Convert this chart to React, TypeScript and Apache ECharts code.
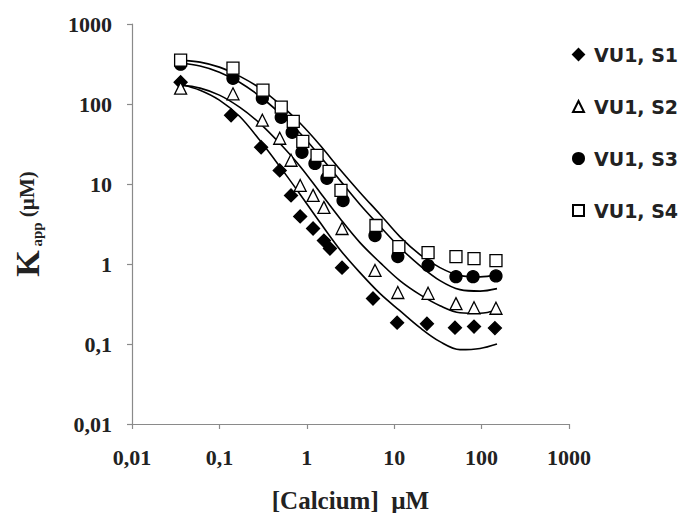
import React, { useEffect, useRef } from "react";
import * as echarts from "echarts";

// Scatter data ([Calcium] µM, K app µM)
const s1X = [0.036, 0.136, 0.3, 0.49, 0.66, 0.84, 1.18, 1.57, 1.84, 2.53, 5.72, 10.8, 23.7, 49.6, 81.9, 142];
const s1Y = [187, 72.4, 28.8, 14.8, 7.2, 3.93, 2.78, 1.96, 1.56, 0.9, 0.37, 0.185, 0.179, 0.16, 0.165, 0.158];

const s2X = [0.036, 0.143, 0.31, 0.49, 0.66, 0.84, 1.18, 1.57, 2.53, 6.03, 11.0, 24.4, 50.9, 81.9, 146];
const s2Y = [158, 134, 62.7, 37.3, 19.8, 9.6, 7.2, 5.1, 2.78, 0.83, 0.44, 0.43, 0.32, 0.284, 0.28];

const s3X = [0.036, 0.143, 0.31, 0.51, 0.68, 0.88, 1.24, 1.7, 2.6, 6.03, 11.0, 24.4, 50.9, 79.8, 146];
const s3Y = [315, 210, 118, 68.4, 44.4, 24.9, 18.1, 11.8, 6.2, 2.27, 1.24, 0.955, 0.695, 0.695, 0.71];

const s4X = [0.036, 0.143, 0.315, 0.51, 0.7, 0.9, 1.31, 1.8, 2.46, 6.19, 11.3, 24.4, 50.9, 81.9, 146];
const s4Y = [354, 281, 149, 91.2, 60.8, 34.2, 22.8, 14.4, 8.3, 3.03, 1.65, 1.39, 1.24, 1.17, 1.1];

// Fitted curves
const curveX = [0.036, 0.06, 0.1, 0.17, 0.29, 0.49, 0.84, 1.42, 2.4, 4.06, 6.9, 11.6, 19.7, 33.4, 56.6, 96, 150];
const curve1Y = [177, 149, 112, 70.3, 35.2, 16.6, 7.41, 3.3, 1.51, 0.78, 0.426, 0.261, 0.16, 0.107, 0.085, 0.088, 0.1];
const curve2Y = [172, 158, 129, 91.2, 57.4, 32.3, 16.6, 7.85, 3.71, 1.85, 1.04, 0.62, 0.414, 0.301, 0.246, 0.242, 0.268];
const curve3Y = [325, 298, 250, 187, 125, 76.7, 43.1, 22.2, 11.1, 5.55, 2.94, 1.61, 0.955, 0.62, 0.478, 0.458, 0.492];
const curve4Y = [354, 334, 289, 223, 158, 99.4, 57.4, 30.5, 15.2, 7.85, 4.16, 2.2, 1.31, 0.9, 0.716, 0.69, 0.736];

const tickLabels = ["0,01", "0,1", "1", "10", "100", "1000"];
const seriesNames = ["VU1, S1", "VU1, S2", "VU1, S3", "VU1, S4"];

const zip = (xs: number[], ys: number[]) => xs.map((x, i) => [x, ys[i]]);

export default function App() {
  const ref = useRef<HTMLDivElement>(null);
  useEffect(() => {
    const chart = echarts.init(ref.current!, null, { renderer: "svg" });
    const serif = "Liberation Serif";
    const fmt = (v: number) => tickLabels[Math.round(Math.log10(v)) + 2] ?? "";
    const axisLineStyle = { color: "#8a8a8a", width: 1.2 };
    const markers = [
      { symbol: "diamond", size: 13, fill: "#000" },
      { symbol: "triangle", size: 12, fill: "#fff" },
      { symbol: "circle", size: 12, fill: "#000" },
      { symbol: "rect", size: 12, fill: "#fff" },
    ];
    const pts = [zip(s1X, s1Y), zip(s2X, s2Y), zip(s3X, s3Y), zip(s4X, s4Y)];
    const curves = [curve1Y, curve2Y, curve3Y, curve4Y];
    const series: any[] = [];
    curves.forEach((cy, i) => {
      series.push({
        name: "curve" + i,
        type: "line",
        data: zip(curveX, cy),
        smooth: 0.35,
        showSymbol: false,
        symbol: "none",
        lineStyle: { color: "#000", width: 1.6 },
        z: 2,
        silent: true,
      });
    });
    markers.forEach((m, i) => {
      series.push({
        name: seriesNames[i],
        type: "scatter",
        data: pts[i],
        symbol: m.symbol,
        symbolSize: m.size,
        itemStyle: { color: m.fill, borderColor: "#000", borderWidth: 1.3, opacity: 1 },
        z: 5,
      });
    });
    chart.setOption({
      animation: false,
      backgroundColor: "#fff",
      grid: { left: 132, right: 113, top: 24, bottom: 89, containLabel: false, outerBoundsMode: "none" },
      legend: {
        data: seriesNames,
        orient: "vertical",
        left: 567,
        top: 40,
        itemWidth: 11,
        itemHeight: 11,
        itemGap: 33,
        itemStyle: { opacity: 1 },
        textStyle: { fontFamily: "DejaVu Sans", fontWeight: "bold", fontSize: 19, color: "#222", padding: [0, 0, 0, 5] },
      },
      xAxis: {
        type: "log",
        logBase: 10,
        min: 0.01,
        max: 1000,
        name: "[Calcium]  µM",
        nameLocation: "middle",
        nameGap: 64,
        nameTextStyle: { fontFamily: serif, fontWeight: "bold", fontSize: 25, color: "#222" },
        axisLine: { show: true, lineStyle: axisLineStyle },
        axisTick: { show: true, length: 5, lineStyle: axisLineStyle },
        axisLabel: { formatter: fmt, margin: 22, fontFamily: serif, fontWeight: "bold", fontSize: 22, color: "#222" },
        splitLine: { show: false },
        minorTick: { show: false },
      },
      yAxis: {
        type: "log",
        logBase: 10,
        min: 0.01,
        max: 1000,
        name: "{k|K}{sub| app}{u| (µM)}",
        nameLocation: "middle",
        nameRotate: 90,
        nameGap: 88,
        nameTextStyle: {
          color: "#222",
          rich: {
            k: { fontFamily: serif, fontWeight: "bold", fontSize: 34, color: "#222" },
            sub: { fontFamily: serif, fontWeight: "bold", fontSize: 15, color: "#222", verticalAlign: "bottom" },
            u: { fontFamily: serif, fontWeight: "bold", fontSize: 21, color: "#222" },
          },
        },
        axisLine: { show: true, lineStyle: axisLineStyle },
        axisTick: { show: true, length: 5, lineStyle: axisLineStyle },
        axisLabel: { formatter: fmt, margin: 20, fontFamily: serif, fontWeight: "bold", fontSize: 22, color: "#222" },
        splitLine: { show: false },
        minorTick: { show: false },
      },
      series,
    });
    return () => chart.dispose();
  }, []);
  return <div ref={ref} style={{ position: "fixed", left: 0, top: 0, width: 682, height: 513 }} />;
}
